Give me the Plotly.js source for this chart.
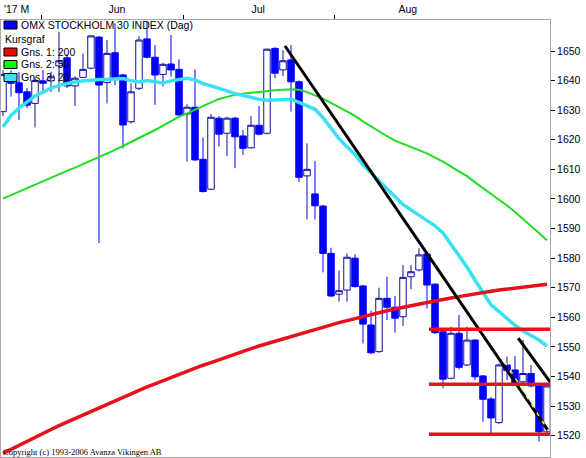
<!DOCTYPE html>
<html>
<head>
<meta charset="utf-8">
<script src="https://cdn.plot.ly/plotly-3.0.1.min.js"></script>
<style>
html,body{margin:0;padding:0;background:#fff;}
#chart{width:586px;height:458px;}
</style>
</head>
<body>
<div id="chart"></div>
<script>
// ---- Data ----
const opens  = [1629.5,1642.1,1639.3,1636.2,1632.3,1639.9,1639.9,1645.0,1647.7,1638.2,1641.1,1644.2,1654.7,1639.3,1649.4,1641.9,1626.1,1637.4,1654.1,1647.9,1642.1,1645.6,1643.8,1628.7,1631.0,1613.4,1603.3,1627.3,1622.2,1627.3,1621.3,1617.3,1624.9,1622.2,1650.9,1643.6,1647.0,1639.6,1607.8,1601.7,1597.6,1581.6,1567.8,1569.2,1580.0,1570.6,1557.4,1548.4,1566.4,1563.4,1560.2,1573.7,1576.0,1581.4,1571.2,1555.1,1539.4,1554.6,1543.9,1552.3,1540.2,1532.4,1524.4,1543.9,1542.2,1538.2,1541.0,1536.8,1521.3];
const highs  = [1643.5,1643.5,1643.0,1637.5,1641.0,1643.6,1643.0,1656.5,1648.9,1641.5,1649.2,1655.4,1655.0,1653.7,1659.4,1642.3,1639.1,1655.0,1660.0,1652.0,1646.0,1655.4,1647.2,1632.0,1643.8,1620.8,1628.7,1628.0,1627.8,1627.8,1623.3,1628.0,1631.4,1650.9,1651.2,1650.3,1652.0,1640.0,1618.8,1612.8,1598.0,1583.5,1575.8,1581.6,1581.3,1571.0,1562.2,1570.0,1573.7,1567.2,1577.7,1577.7,1583.3,1582.0,1571.5,1555.5,1556.8,1560.8,1556.8,1552.6,1540.5,1533.0,1544.4,1546.7,1546.9,1552.3,1543.9,1537.2,1537.5];
const lows   = [1628.0,1634.6,1626.7,1630.7,1624.2,1636.3,1636.2,1636.2,1637.5,1631.4,1640.8,1643.8,1585.1,1632.3,1638.5,1617.1,1625.5,1636.8,1647.5,1631.8,1638.0,1641.3,1628.0,1612.6,1612.8,1602.2,1603.0,1617.7,1614.5,1610.4,1614.9,1617.0,1621.5,1621.8,1640.8,1641.5,1629.5,1605.8,1593.1,1593.1,1575.2,1566.8,1565.3,1565.3,1570.0,1551.2,1547.6,1548.0,1559.1,1554.8,1557.1,1569.5,1575.5,1563.0,1554.3,1536.0,1539.0,1542.4,1543.5,1538.8,1524.7,1519.9,1524.0,1538.8,1537.5,1537.8,1536.4,1518.0,1521.0];
const closes = [1642.1,1639.1,1635.9,1631.7,1640.0,1639.1,1641.3,1646.7,1638.2,1640.8,1643.8,1655.1,1638.5,1649.2,1641.1,1625.0,1636.2,1653.7,1647.9,1641.9,1645.5,1643.6,1628.4,1631.0,1613.2,1602.5,1627.6,1621.9,1627.3,1621.0,1617.1,1624.9,1621.9,1650.6,1642.5,1646.7,1639.6,1607.3,1610.0,1597.7,1581.6,1567.2,1569.0,1580.3,1570.4,1557.7,1548.0,1566.4,1563.4,1559.7,1573.5,1575.4,1581.1,1570.9,1554.8,1539.1,1554.6,1543.1,1552.3,1539.9,1532.3,1526.0,1543.9,1542.0,1537.9,1541.0,1536.8,1521.3,1536.8];

// moving averages
const ma200 = [1514.0,1515.4,1516.8,1518.1,1519.4,1520.8,1522.1,1523.4,1524.6,1525.9,1527.1,1528.3,1529.6,1530.7,1531.9,1533.1,1534.2,1535.3,1536.5,1537.5,1538.6,1539.7,1540.7,1541.8,1542.8,1543.8,1544.7,1545.7,1546.7,1547.6,1548.5,1549.4,1550.3,1551.1,1552.0,1552.8,1553.6,1554.4,1555.2,1556.0,1556.7,1557.5,1558.2,1558.9,1559.6,1560.3,1560.9,1561.5,1562.2,1562.8,1563.4,1563.9,1564.5,1565.0,1565.5,1566.1,1566.5,1567.0,1567.5,1567.9,1568.3,1568.8,1569.2,1569.5,1569.9,1570.2,1570.6,1570.9,1571.2];
const ma50  = [1600.1,1601.3,1602.5,1603.7,1604.9,1606.0,1607.2,1608.4,1609.5,1610.6,1611.8,1612.9,1614.0,1615.3,1616.6,1617.9,1619.2,1620.5,1621.8,1623.3,1624.8,1626.3,1627.8,1628.9,1630.1,1631.3,1632.7,1633.8,1634.5,1635.2,1635.6,1635.8,1636.0,1636.4,1636.7,1637.0,1637.1,1636.9,1636.1,1635.0,1633.9,1632.5,1631.0,1629.5,1628.1,1626.2,1624.5,1622.7,1621.2,1619.7,1618.6,1617.6,1616.6,1615.4,1614.0,1612.6,1610.9,1609.3,1607.7,1605.6,1603.7,1601.8,1599.9,1597.8,1595.6,1593.3,1590.9,1588.5,1586.0];
const ma20  = [1624.3,1628.2,1630.7,1632.9,1634.8,1636.1,1637.5,1638.4,1639.1,1639.5,1639.9,1640.2,1640.4,1640.4,1640.6,1640.7,1640.0,1639.5,1640.0,1639.6,1639.2,1639.9,1640.4,1640.8,1640.2,1639.0,1638.2,1637.5,1636.5,1635.6,1634.9,1634.3,1633.7,1633.4,1633.5,1633.7,1633.7,1632.6,1631.6,1630.3,1627.5,1624.0,1620.4,1617.6,1615.0,1611.5,1608.9,1605.9,1603.6,1600.7,1598.1,1596.3,1594.6,1592.9,1590.9,1588.5,1584.8,1581.1,1577.0,1572.6,1568.2,1564.2,1561.9,1559.6,1557.3,1555.4,1554.0,1552.3,1550.3];

// drawn support / resistance levels and trend lines
const levelStartEnd = [53.25, 68.375];
const levels = [1556.0, 1537.4, 1520.5];
const trend1X = [35.25, 68.1],   trend1Y = [1651.7, 1521.9];
const trend2X = [64.4, 68.4],    trend2Y = [1553.0, 1538.1];
const yellowX = [62.75, 68.1],   yellowY = [1545.0, 1521.9];

// axis labels
const monthLabels = ["'17 M", "Jun", "Jul", "Aug"];
const monthLabelPos = [1.7, 14.25, 31.9, 50.6];
const monthTickPos = [4.75, 22.6, 41.4];
const yTicks = [1520,1530,1540,1550,1560,1570,1580,1590,1600,1610,1620,1630,1640,1650];

const legendNames = ["OMX STOCKHOLM 30 INDEX (Dag)", "Kursgraf", "Gns. 1: 200", "Gns. 2: 50", "Gns. 3: 20"];

// ---- Build ----
const xs = opens.map((_, i) => i);
const XR = [-0.25, 68.375];
const YR = [1512.79, 1660.48];
const FONT = 'Liberation Sans, Arial, sans-serif';
const RED = '#e8101a', GREEN = '#20dd20', CYAN = '#38e2f2', BLUE = '#0000ff', NAVY = '#1010a0';

const traces = [];
traces.push({
  type: 'candlestick', x: xs, open: opens, high: highs, low: lows, close: closes,
  increasing: {line: {color: NAVY, width: 1}, fillcolor: '#ffffff'},
  decreasing: {line: {color: BLUE, width: 1}, fillcolor: BLUE},
  whiskerwidth: 0, showlegend: false, hoverinfo: 'skip'
});
traces.push({type:'scatter', mode:'lines', x: xs, y: ma50, line:{color: GREEN, width: 2}, showlegend:false, hoverinfo:'skip'});
traces.push({type:'scatter', mode:'lines', x: xs, y: ma20, line:{color: CYAN, width: 3.5}, showlegend:false, hoverinfo:'skip'});
traces.push({type:'scatter', mode:'lines', x: xs, y: ma200, line:{color: RED, width: 3.5}, showlegend:false, hoverinfo:'skip'});
levels.forEach(v => {
  traces.push({type:'scatter', mode:'lines', xaxis:'x2', x: levelStartEnd, y: [v, v], line:{color: RED, width: 3.5}, showlegend:false, hoverinfo:'skip'});
});
traces.push({type:'scatter', mode:'lines', x: trend1X, y: trend1Y, line:{color:'#000', width: 3}, showlegend:false, hoverinfo:'skip'});
traces.push({type:'scatter', mode:'lines', x: trend2X, y: trend2Y, line:{color:'#000', width: 3}, showlegend:false, hoverinfo:'skip'});
traces.push({type:'scatter', mode:'lines', x: yellowX, y: yellowY, line:{color:'#ffee22', width: 1.5, dash:'4px,6px'}, showlegend:false, hoverinfo:'skip'});

// pixel -> paper helpers (plot area: x 1..550, y 20..457)
const px = v => (v - 1) / 549;
const py = v => (457 - v) / 437;

const annotations = [];
const shapes = [];
const legendRows = [25, 38.5, 52, 64.5, 77.5];
const swatchColors = [BLUE, null, '#ff0000', '#00ff00', CYAN];
legendNames.forEach((t, k) => {
  annotations.push({
    xref:'paper', yref:'paper', x: px(k === 1 ? 3 : 19), y: py(legendRows[k]),
    xanchor:'left', yanchor:'middle', text: t, showarrow:false,
    font:{family: FONT, size: 10.5, color:'#000'}
  });
  if (swatchColors[k]) {
    shapes.push({type:'rect', xref:'paper', yref:'paper',
      x0: px(4), x1: px(17), y0: py(legendRows[k] - 4), y1: py(legendRows[k] + 4),
      fillcolor: swatchColors[k], line:{color:'#000', width:1}});
  }
});
annotations.push({
  xref:'paper', yref:'paper', x: px(1), y: py(451.5), xanchor:'left', yanchor:'middle',
  text:'Copyright (c) 1993-2006 Avanza Vikingen AB', showarrow:false,
  font:{family:'Liberation Serif, Times New Roman, serif', size: 8.5, color:'#000'}
});

const layout = {
  width: 586, height: 458,
  margin: {l: 1, r: 36, t: 20, b: 1, pad: 0},
  paper_bgcolor: '#ffffff', plot_bgcolor: '#ffffff',
  showlegend: false,
  boxgap: 0.1, boxgroupgap: 0.1,
  xaxis: {
    range: XR, side: 'top', showgrid: false, zeroline: false,
    showline: true, mirror: true, linecolor: '#a8a8a8', linewidth: 1,
    tickmode: 'array', tickvals: monthTickPos, ticks: 'outside', ticklen: 4,
    tickcolor: '#000', tickwidth: 1, showticklabels: false,
    rangeslider: {visible: false}, fixedrange: true
  },
  xaxis2: {
    range: XR, overlaying: 'x', anchor: 'y', side: 'top', showgrid: false, zeroline: false,
    showline: false, tickmode: 'array', tickvals: monthLabelPos, ticktext: monthLabels,
    ticks: '', ticklabelstandoff: 4,
    tickfont: {family: FONT, size: 10.5, color: '#000'}, fixedrange: true
  },
  yaxis: {
    range: YR, side: 'right', showgrid: false, zeroline: false,
    showline: true, mirror: true, linecolor: '#a8a8a8', linewidth: 1,
    tickmode: 'array', tickvals: yTicks, ticks: 'outside', ticklen: 4, tickcolor: '#000',
    tickfont: {family: FONT, size: 10.5, color: '#000'}, fixedrange: true
  },
  annotations: annotations,
  shapes: shapes
};

Plotly.newPlot('chart', traces, layout, {staticPlot: true, displayModeBar: false});
</script>
</body>
</html>
